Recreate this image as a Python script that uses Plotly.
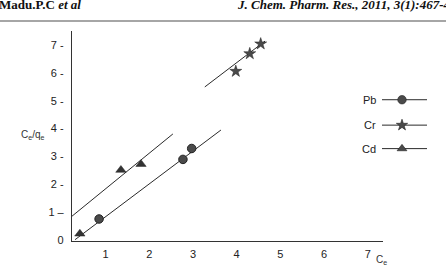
import plotly.graph_objects as go

W, H = 446, 269

# Data (Ce, Ce/qe)
pb_x = [0.85, 2.77, 2.97]
pb_y = [0.77, 2.90, 3.29]
cr_x = [3.98, 4.30, 4.55]
cr_y = [6.05, 6.68, 7.03]
cd_x = [0.41, 1.35, 1.81]
cd_y = [0.24, 2.52, 2.73]

# Fitted lines (end points)
pb_fit_x = [0.30, 3.64]
pb_fit_y = [0.03, 3.95]
cr_fit_x = [3.27, 4.65]
cr_fit_y = [5.49, 7.13]
cd_fit_x = [0.23, 2.54]
cd_fit_y = [0.87, 3.81]

x_ticks = [1, 2, 3, 4, 5, 6, 7]
y_ticks = [0, 1, 2, 3, 4, 5, 6, 7]
y_tick_text = ["0", "1 \u2013", "2 -", "3 -", "4 -", "5 -", "6 -", "7 -"]

series_names = ["Pb", "Cr", "Cd"]

INK = "#2a2a2a"
MK = "#4a4a4a"


def px(x):
    return x / W


def py(y):
    return 1 - y / H


fig = go.Figure()

line_style = dict(color=INK, width=1)
for fx, fy in [(pb_fit_x, pb_fit_y), (cr_fit_x, cr_fit_y), (cd_fit_x, cd_fit_y)]:
    fig.add_trace(go.Scatter(x=fx, y=fy, mode="lines", line=line_style,
                             showlegend=False, hoverinfo="skip"))

fig.add_trace(go.Scatter(x=pb_x, y=pb_y, mode="markers", name="Pb",
                         marker=dict(symbol="circle", size=8.5, color=MK,
                                     line=dict(color="#222", width=1)),
                         showlegend=False))
fig.add_trace(go.Scatter(x=cr_x, y=cr_y, mode="markers", name="Cr",
                         marker=dict(symbol="star", size=9, color=MK,
                                     line=dict(color="#222", width=0.5)),
                         showlegend=False))
fig.add_trace(go.Scatter(x=cd_x, y=cd_y, mode="markers", name="Cd",
                         marker=dict(symbol="triangle-up", size=9, color="#333",
                                     line=dict(color="#222", width=0.5)),
                         showlegend=False))

# Custom legend drawn on a full-figure pixel axis
leg_y = [102, 128, 152]
leg_sym = ["circle", "star", "triangle-up"]
for name, ly, sym in zip(series_names, leg_y, leg_sym):
    fig.add_trace(go.Scatter(x=[382, 427], y=[ly, ly], mode="lines",
                             line=dict(color=INK, width=1), xaxis="x2", yaxis="y2",
                             showlegend=False, hoverinfo="skip"))
    fig.add_trace(go.Scatter(x=[402], y=[ly], mode="markers", xaxis="x2", yaxis="y2",
                             marker=dict(symbol=sym, size=8.5, color=MK,
                                         line=dict(color="#222", width=0.6)),
                             showlegend=False, hoverinfo="skip"))
    fig.add_annotation(x=px(378), y=py(ly), xref="paper", yref="paper", text=name,
                       showarrow=False, xanchor="right", yanchor="middle",
                       font=dict(family="Liberation Sans, Arial", size=11, color="#222"))

L, R, T, B = 72, 383, 32, 246
fig.update_layout(
    width=W, height=H,
    margin=dict(l=0, r=0, t=0, b=0),
    paper_bgcolor="white", plot_bgcolor="rgba(0,0,0,0)",
    font=dict(family="Liberation Sans, Arial", size=11, color="#222"),
    xaxis=dict(domain=[L / W, R / W], range=[0.23, 7.35], showgrid=False, zeroline=False,
               showline=True, linecolor="#333", linewidth=1.2,
               tickmode="array", tickvals=x_ticks, ticks="", ticklabelstandoff=3,
               tickfont=dict(size=11, color="#222")),
    yaxis=dict(domain=[1 - B / H, 1 - T / H], range=[0, 7.48], showgrid=False, zeroline=False,
               showline=True, linecolor="#333", linewidth=1.2,
               tickmode="array", tickvals=y_ticks, ticktext=y_tick_text, ticks="",
               ticklabelstandoff=5,
               tickfont=dict(size=11, color="#222")),
    xaxis2=dict(domain=[0, 1], range=[0, W], visible=False, anchor="y2"),
    yaxis2=dict(domain=[0, 1], range=[H, 0], visible=False, anchor="x2"),
)

# axis titles
fig.add_annotation(x=px(32), y=py(138), xref="paper", yref="paper",
                   text="C<sub>e</sub>/q<sub>e</sub>", xanchor="center", yanchor="middle",
                   showarrow=False, font=dict(size=10, color="#333"))
fig.add_annotation(x=px(381), y=py(266), xref="paper", yref="paper", text="C<sub>e</sub>",
                   xanchor="center", yanchor="middle",
                   showarrow=False, font=dict(size=10, color="#333"))

# page header
fig.add_annotation(x=px(-3), y=py(5), xref="paper", yref="paper",
                   text="<b>Madu.P.C <i>et al</i></b>",
                   showarrow=False, xanchor="left", yanchor="middle",
                   font=dict(family="Liberation Serif, Times New Roman", size=13, color="#111"))
fig.add_annotation(x=px(235), y=py(5), xref="paper", yref="paper",
                   text="<b><i>J. Chem. Pharm. Res., 2011, 3(1):467-477</i></b>",
                   showarrow=False, xanchor="left", yanchor="middle",
                   font=dict(family="Liberation Serif, Times New Roman", size=13, color="#111"))
fig.add_shape(type="line", xref="paper", yref="paper", x0=0, x1=1,
              y0=py(21.5), y1=py(21.5), line=dict(color="#888", width=1.5))

fig.write_html("out.html")
